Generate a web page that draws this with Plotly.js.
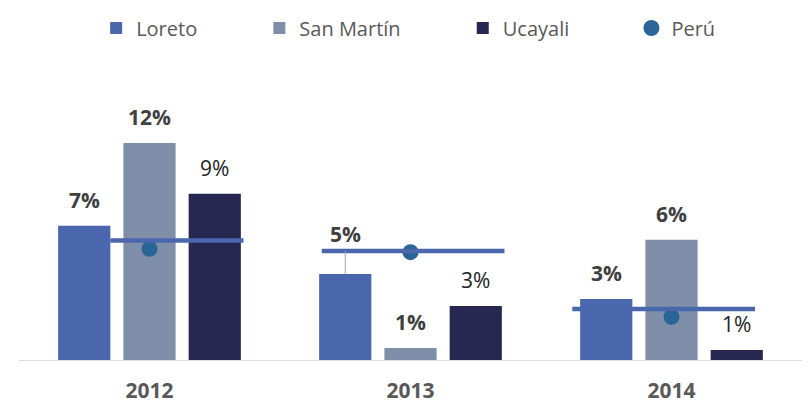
<!DOCTYPE html>
<html><head><meta charset="utf-8">
<script src="https://cdn.plot.ly/plotly-3.0.1.min.js"></script>
<style>html,body{margin:0;padding:0;background:#fff}#chart{width:808px;height:412px}</style>
</head><body><div id="chart"></div>
<script>
// ---- data (percent) ----
const years = ['2012', '2013', '2014'];
const seriesNames = ['Loreto', 'San Martín', 'Ucayali'];
const loreto = [7.17, 4.60, 3.26];
const sanMartin = [11.60, 0.64, 6.42];
const ucayali = [8.88, 2.89, 0.53];
const peruName = 'Perú';
const peru = [5.94, 5.76, 2.30];
// horizontal segments drawn near each year group (level and extent in category units)
const segLevel = [6.38, 5.83, 2.73];
const segFrom = [-0.15, -0.34, -0.38];
const segTo = [0.36, 0.36, 0.32];

// ---- styling ----
const FONT = 'Open Sans, Noto Sans, sans-serif';
const colors = ['#4a66ac', '#7f8fa9', '#262852'];
const labelStyle = [
  {weight: 'bold', color: '#404040'},
  {weight: 'bold', color: '#404040'},
  {weight: 'normal', color: '#222222'}
];
const series = [loreto, sanMartin, ucayali];
const slot = 0.25;            // bar slot width in category units
const offsets = [-1, 0, 1];
const pad = '\u00a0'.repeat(11);

const traces = [];
series.forEach((vals, s) => {
  traces.push({
    type: 'bar', x: years, y: vals, name: seriesNames[s] + pad,
    marker: {color: colors[s]}, hoverinfo: 'skip'
  });
});

// segments
const sx = [], sy = [];
years.forEach((_, i) => {
  sx.push(i + segFrom[i], i + segTo[i], null);
  sy.push(segLevel[i], segLevel[i], null);
});
traces.push({
  type: 'scatter', mode: 'lines', x: sx, y: sy, xaxis: 'x2', yaxis: 'y',
  line: {color: '#4a66ac', width: 4.5}, showlegend: false, hoverinfo: 'skip', cliponaxis: false
});

// label leader (Loreto 2013 label lifted above the segment)
const lifted = [{s: 0, i: 1}];
lifted.forEach(o => {
  const xx = o.i + offsets[o.s] * slot;
  traces.push({
    type: 'scatter', mode: 'lines', x: [xx, xx], y: [series[o.s][o.i], segLevel[o.i]],
    xaxis: 'x2', yaxis: 'y', line: {color: '#a6a6a6', width: 1},
    showlegend: false, hoverinfo: 'skip', cliponaxis: false
  });
});

traces.push({
  type: 'scatter', mode: 'markers', x: years, y: peru, name: peruName,
  marker: {color: '#2b6496', size: 16}, hoverinfo: 'skip', cliponaxis: false
});

// data labels
const annotations = [];
series.forEach((vals, s) => {
  vals.forEach((v, i) => {
    const isLifted = lifted.some(o => o.s === s && o.i === i);
    annotations.push({
      xref: 'x2', yref: 'y', x: i + offsets[s] * slot,
      y: isLifted ? segLevel[i] : v,
      yanchor: 'bottom', yshift: isLifted ? 1 : 10,
      text: Math.round(v) + '%', showarrow: false,
      font: {family: FONT, size: 21, weight: labelStyle[s].weight, color: labelStyle[s].color}
    });
  });
});

const layout = {
  width: 808, height: 412,
  margin: {l: 19, r: 6, t: 98, b: 52},
  paper_bgcolor: '#ffffff', plot_bgcolor: '#ffffff',
  font: {family: FONT, color: '#595959'},
  barmode: 'group', bargap: 0.25, bargroupgap: 0.2,
  showlegend: true,
  legend: {
    orientation: 'h', x: 0.497, xanchor: 'center', yref: 'container', y: 0.932, yanchor: 'middle',
    font: {family: FONT, size: 20, color: '#595959'}, traceorder: 'normal'
  },
  xaxis: {
    type: 'category', range: [-0.5, 2.5], showline: true, linecolor: '#d9d9d9', linewidth: 1,
    ticks: '', showgrid: false, zeroline: false, ticklabelstandoff: 12,
    tickfont: {family: FONT, size: 21, weight: 'bold', color: '#595959'}
  },
  xaxis2: {overlaying: 'x', anchor: 'y', range: [-0.5, 2.5], visible: false},
  yaxis: {range: [0, 14], visible: false, showgrid: false, zeroline: false},
  annotations: annotations
};

Plotly.newPlot('chart', traces, layout, {displayModeBar: false, staticPlot: true});
</script>
</body></html>
